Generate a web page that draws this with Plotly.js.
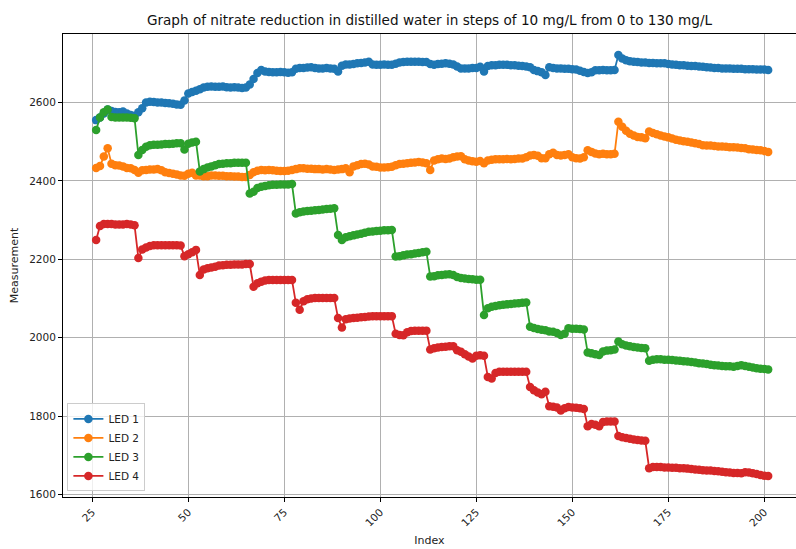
<!DOCTYPE html>
<html>
<head>
<meta charset="utf-8">
<script src="https://cdn.plot.ly/plotly-3.0.1.min.js"></script>
<style>html,body{margin:0;padding:0;background:#fff;}#chart{width:796px;height:549px;}</style>
</head>
<body>
<div id="chart"></div>
<script>
const indexValues = [26,27,28,29,30,31,32,33,34,35,36,37,38,39,40,41,42,43,44,45,46,47,48,49,50,51,52,53,54,55,56,57,58,59,60,61,62,63,64,65,66,67,68,69,70,71,72,73,74,75,76,77,78,79,80,81,82,83,84,85,86,87,88,89,90,91,92,93,94,95,96,97,98,99,100,101,102,103,104,105,106,107,108,109,110,111,112,113,114,115,116,117,118,119,120,121,122,123,124,125,126,127,128,129,130,131,132,133,134,135,136,137,138,139,140,141,142,143,144,145,146,147,148,149,150,151,152,153,154,155,156,157,158,159,160,161,162,163,164,165,166,167,168,169,170,171,172,173,174,175,176,177,178,179,180,181,182,183,184,185,186,187,188,189,190,191,192,193,194,195,196,197,198,199,200,201];

const led1 = [2555,2562,2572,2582,2578,2576,2575,2577,2572,2568,
2566,2575,2585,2600,2602,2601,2600,2600,2599,2598,
2597,2595,2594,2605,2623,2627,2630,2634,2638,2640,
2641,2640,2640,2641,2639,2638,2639,2638,2637,2638,
2646,2660,2675,2683,2679,2678,2677,2677,2678,2677,
2676,2677,2686,2688,2688,2689,2690,2688,2687,2687,
2688,2687,2686,2679,2694,2697,2697,2698,2700,2701,
2702,2704,2697,2696,2696,2697,2696,2696,2699,2702,
2703,2704,2704,2704,2704,2703,2703,2698,2696,2698,
2699,2700,2699,2697,2692,2687,2687,2687,2688,2688,
2691,2679,2693,2695,2695,2696,2696,2696,2695,2695,
2694,2693,2692,2690,2683,2680,2677,2670,2690,2688,
2687,2687,2686,2686,2685,2684,2681,2678,2675,2677,
2682,2682,2683,2682,2682,2683,2721,2712,2708,2705,
2704,2703,2702,2702,2701,2701,2700,2700,2700,2698,
2697,2696,2695,2695,2694,2693,2693,2692,2691,2690,
2689,2688,2688,2687,2687,2687,2686,2686,2686,2685,
2685,2685,2684,2684,2684,2683];

const led2 = [2433,2438,2462,2483,2444,2440,2439,2437,2433,2432,
2428,2421,2427,2428,2429,2429,2430,2427,2422,2420,
2418,2416,2414,2413,2418,2421,2414,2414,2412,2412,
2414,2414,2413,2413,2412,2412,2411,2411,2410,2410,
2415,2422,2426,2428,2427,2428,2427,2426,2425,2425,
2426,2428,2430,2432,2432,2431,2431,2430,2430,2429,
2430,2429,2428,2429,2430,2432,2422,2437,2440,2443,
2444,2442,2437,2436,2434,2434,2435,2436,2440,2443,
2444,2445,2446,2447,2448,2447,2445,2428,2452,2455,
2457,2456,2457,2460,2462,2463,2455,2452,2450,2449,
2451,2445,2452,2454,2455,2455,2455,2456,2455,2456,
2457,2457,2460,2465,2466,2464,2458,2458,2468,2472,
2466,2465,2466,2468,2460,2458,2457,2460,2478,2474,
2470,2468,2469,2468,2468,2469,2551,2538,2528,2520,
2516,2512,2511,2509,2526,2522,2519,2516,2513,2511,
2508,2505,2503,2501,2500,2498,2496,2494,2491,2490,
2490,2489,2488,2488,2487,2486,2486,2485,2484,2483,
2481,2480,2479,2478,2476,2474];

const led3 = [2530,2562,2575,2582,2563,2562,2562,2562,2562,2561,
2560,2466,2479,2487,2491,2492,2492,2493,2494,2494,
2495,2496,2496,2480,2495,2498,2500,2424,2430,2434,
2437,2440,2443,2444,2445,2445,2446,2446,2446,2446,
2368,2372,2382,2385,2387,2389,2390,2390,2391,2391,
2391,2392,2317,2320,2322,2323,2324,2325,2326,2327,
2328,2329,2330,2262,2249,2256,2259,2261,2263,2265,
2268,2270,2271,2272,2273,2274,2274,2275,2207,2208,
2210,2212,2213,2215,2216,2218,2219,2156,2157,2159,
2160,2161,2162,2160,2155,2152,2151,2150,2149,2148,
2148,2058,2075,2079,2081,2083,2084,2085,2086,2087,
2088,2089,2090,2028,2025,2022,2020,2019,2016,2015,
2012,2007,2010,2024,2023,2023,2022,2021,1962,1960,
1958,1956,1965,1967,1968,1970,1990,1983,1980,1978,
1976,1975,1974,1973,1941,1944,1945,1945,1944,1944,
1943,1942,1941,1940,1939,1938,1937,1935,1934,1933,
1931,1930,1929,1928,1927,1927,1926,1928,1930,1928,
1926,1924,1922,1921,1920,1919];

const led4 = [2249,2285,2290,2290,2290,2289,2289,2289,2290,2289,
2287,2203,2225,2230,2234,2236,2236,2236,2236,2236,
2236,2236,2235,2208,2213,2218,2224,2160,2174,2177,
2179,2181,2184,2185,2186,2186,2187,2187,2187,2188,
2188,2130,2139,2143,2146,2147,2147,2147,2147,2147,
2147,2147,2089,2071,2093,2098,2100,2101,2101,2101,
2101,2101,2101,2050,2026,2047,2049,2050,2051,2052,
2053,2054,2055,2055,2055,2055,2055,2055,2010,2007,
2006,2014,2017,2018,2018,2018,2018,1970,1973,1975,
1976,1977,1978,1978,1968,1964,1958,1952,1947,1954,
1955,1954,1900,1896,1910,1913,1913,1913,1913,1913,
1913,1913,1913,1874,1866,1860,1856,1862,1825,1824,
1822,1814,1820,1823,1822,1821,1820,1818,1774,1780,
1778,1774,1785,1786,1786,1786,1749,1746,1744,1742,
1740,1739,1738,1737,1667,1670,1670,1670,1669,1669,
1668,1668,1667,1667,1666,1665,1664,1663,1662,1661,
1661,1660,1659,1658,1657,1656,1655,1655,1654,1657,
1656,1654,1652,1650,1648,1647];

const seriesNames = ["LED 1", "LED 2", "LED 3", "LED 4"];
const seriesColors = ["#1f77b4", "#ff7f0e", "#2ca02c", "#d62728"];
const xTickValues = [25, 50, 75, 100, 125, 150, 175, 200];
const yTickValues = [1600, 1800, 2000, 2200, 2400, 2600];
const chartTitle = "Graph of nitrate reduction in distilled water in steps of 10 mg/L from 0 to 130 mg/L";

const allSeries = [led1, led2, led3, led4];
const traces = allSeries.map((vals, k) => ({
  type: "scatter",
  mode: "lines+markers",
  x: indexValues,
  y: vals,
  name: seriesNames[k],
  line: {color: seriesColors[k], width: 1.8},
  marker: {color: seriesColors[k], size: 8.5}
}));

const font = "DejaVu Sans, sans-serif";
const layout = {
  width: 796, height: 549,
  margin: {l: 63, r: 0, t: 34, b: 52, pad: 0},
  paper_bgcolor: "#ffffff",
  plot_bgcolor: "#ffffff",
  font: {family: font, size: 10.5, color: "#222"},
  title: {text: chartTitle, font: {family: font, size: 13.6, color: "#111"},
          xref: "paper", x: 0.500, xanchor: "center", yref: "container", y: 1 - 20/549, yanchor: "middle"},
  showlegend: true,
  legend: {x: 0.006, y: 0.012, xanchor: "left", yanchor: "bottom",
           bgcolor: "rgba(255,255,255,0.8)", bordercolor: "#cccccc", borderwidth: 1,
           font: {family: font, size: 10.5, color: "#222"}, tracegroupgap: 0},
  xaxis: {
    range: [17.37, 208.25], tickmode: "array", tickvals: xTickValues,
    tickangle: -45, ticks: "outside", ticklen: 4, tickcolor: "#000", tickwidth: 1,
    showgrid: true, gridcolor: "#b0b0b0", gridwidth: 1, zeroline: false,
    showline: true, linecolor: "#000", linewidth: 1, mirror: true,
    title: {text: "Index", font: {family: font, size: 11, color: "#222"}, standoff: 8},
    automargin: false
  },
  yaxis: {
    range: [1593.6, 2774.7], tickmode: "array", tickvals: yTickValues,
    ticks: "outside", ticklen: 4, tickcolor: "#000", tickwidth: 1,
    showgrid: true, gridcolor: "#b0b0b0", gridwidth: 1, zeroline: false,
    showline: true, linecolor: "#000", linewidth: 1, mirror: false,
    title: {text: "Measurement", font: {family: font, size: 11, color: "#222"}, standoff: 8},
    automargin: false
  }
};

Plotly.newPlot("chart", traces, layout, {displayModeBar: false, staticPlot: true});
</script>
</body>
</html>
